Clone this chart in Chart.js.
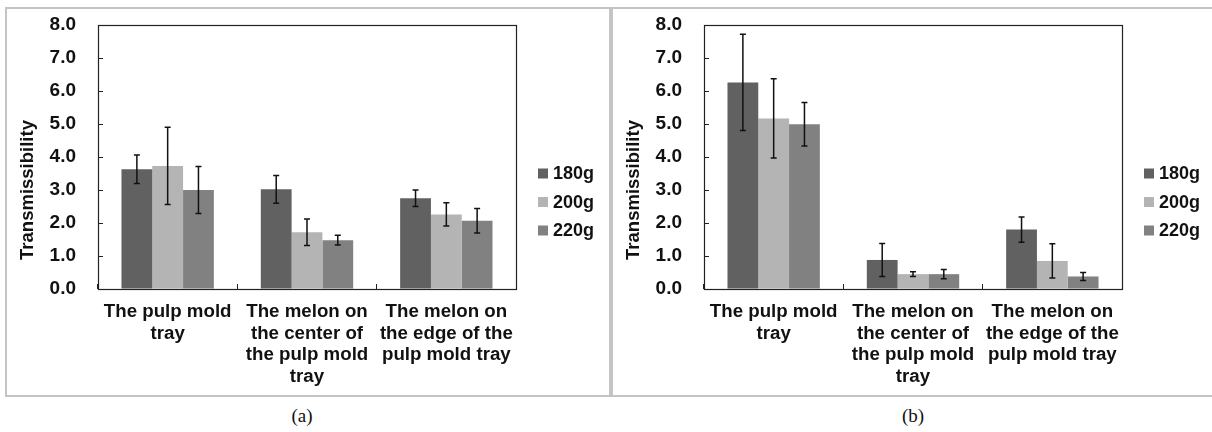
<!DOCTYPE html>
<html>
<head>
<meta charset="utf-8">
<script src="https://cdn.jsdelivr.net/npm/chart.js@4"></script>
<style>
  html, body { margin: 0; padding: 0; background: #fff; overflow: hidden; }
  body { width: 1212px; height: 432px; position: relative; }
  .panel { position: absolute; top: 7px; width: 602px; height: 386px; border: 2px solid #c4c4c4; }
  #pa { left: 5px; }
  #pb { left: 611px; }
  .cap { position: absolute; top: 405px; font-family: "Liberation Serif", "Times New Roman", serif; font-size: 19px; color: #111; transform: translateX(-50%); }
</style>
</head>
<body>
<div class="panel" id="pa"><canvas id="chartA" width="602" height="386"></canvas></div>
<div class="panel" id="pb"><canvas id="chartB" width="602" height="386"></canvas></div>
<div class="cap" style="left:302px">(a)</div>
<div class="cap" style="left:913px">(b)</div>
<script>
const categories = [
    ['The pulp mold', 'tray'],
    ['The melon on', 'the center of', 'the pulp mold', 'tray'],
    ['The melon on', 'the edge of the', 'pulp mold tray']
];
const seriesNames = ['180g', '200g', '220g'];
const seriesColors = ['#616161', '#b4b4b4', '#818181'];
const yMin = 0;
const yMax = 8;
const yStep = 1;
const yTitle = 'Transmissibility';

// panel (a)
const a180 = [3.63, 3.02, 2.75];
const a180Err = [0.43, 0.42, 0.25];
const a200 = [3.73, 1.72, 2.26];
const a200Err = [1.17, 0.40, 0.35];
const a220 = [3.00, 1.48, 2.07];
const a220Err = [0.71, 0.15, 0.37];

// panel (b)
const b180 = [6.26, 0.88, 1.80];
const b180Err = [1.46, 0.50, 0.38];
const b200 = [5.17, 0.45, 0.85];
const b200Err = [1.20, 0.07, 0.52];
const b220 = [4.99, 0.45, 0.38];
const b220Err = [0.66, 0.14, 0.12];

const FONT = 'Liberation Sans, Arial, sans-serif';

// error bars, frame, y title and legend drawn on top of the bars
const extras = {
    id: 'extras',
    afterDatasetsDraw(chart) {
        const ctx = chart.ctx;
        const y = chart.scales.y;
        ctx.save();
        ctx.strokeStyle = '#111';
        ctx.lineWidth = 1.5;
        chart.data.datasets.forEach((ds, i) => {
            const meta = chart.getDatasetMeta(i);
            meta.data.forEach((bar, j) => {
                const v = ds.data[j];
                const e = ds.errors[j];
                const top = y.getPixelForValue(v + e);
                const bot = y.getPixelForValue(v - e);
                ctx.beginPath();
                ctx.moveTo(bar.x, top);
                ctx.lineTo(bar.x, bot);
                ctx.moveTo(bar.x - 3, top);
                ctx.lineTo(bar.x + 3, top);
                ctx.moveTo(bar.x - 3, bot);
                ctx.lineTo(bar.x + 3, bot);
                ctx.stroke();
            });
        });
        ctx.restore();
    },
    afterDraw(chart) {
        const ctx = chart.ctx;
        const a = chart.chartArea;
        ctx.save();
        ctx.strokeStyle = '#222';
        ctx.lineWidth = 1.2;
        ctx.strokeRect(Math.round(a.left) + 0.5, Math.round(a.top) + 0.5,
            Math.round(a.right - a.left), Math.round(a.bottom - a.top));

        // y axis title
        ctx.fillStyle = '#111';
        ctx.font = 'bold 18.5px ' + FONT;
        ctx.textAlign = 'center';
        ctx.textBaseline = 'middle';
        ctx.translate(21, (a.top + a.bottom) / 2 + 33);
        ctx.rotate(-Math.PI / 2);
        ctx.fillText(yTitle, 0, 0);
        ctx.restore();

        // legend
        ctx.save();
        ctx.font = 'bold 18px ' + FONT;
        ctx.textAlign = 'left';
        ctx.textBaseline = 'middle';
        const lx = a.right + 22;
        chart.data.datasets.forEach((ds, i) => {
            const cy = chart.height / 2 + (i - 1) * 28.5;
            ctx.fillStyle = ds.backgroundColor;
            ctx.fillRect(lx, cy - 5, 10, 10);
            ctx.fillStyle = '#111';
            ctx.fillText(ds.label, lx + 15, cy + 1);
        });
        ctx.restore();
    }
};

function makeChart(id, values, errors) {
    const datasets = seriesNames.map((name, i) => ({
        label: name,
        data: values[i],
        errors: errors[i],
        backgroundColor: seriesColors[i],
        borderWidth: 0,
        categoryPercentage: 0.663,
        barPercentage: 1.0
    }));

    return new Chart(document.getElementById(id), {
        type: 'bar',
        data: { labels: categories, datasets: datasets },
        options: {
            responsive: false,
            animation: false,
            devicePixelRatio: 1,
            layout: { padding: { top: 16, right: 93, bottom: 0, left: 0 } },
            plugins: { legend: { display: false }, tooltip: { enabled: false } },
            scales: {
                x: {
                    grid: { display: true, drawOnChartArea: false, drawTicks: true, tickLength: -5, color: '#222', offset: true },
                    border: { display: false },
                    ticks: {
                        autoSkip: false, maxRotation: 0, minRotation: 0, padding: 17, color: '#111',
                        font: { family: FONT, size: 18.7, weight: 'bold', lineHeight: 1.16 }
                    },
                    afterFit(s) { s.height = 106; s.paddingLeft = 0; s.paddingRight = 0; }
                },
                y: {
                    min: yMin, max: yMax,
                    grid: { display: true, drawOnChartArea: false, drawTicks: true, tickLength: -5, color: '#222' },
                    border: { display: false },
                    ticks: {
                        stepSize: yStep, padding: 27, color: '#111',
                        font: { family: FONT, size: 19, weight: 'bold' },
                        callback: v => v.toFixed(1)
                    },
                    afterFit(s) { s.width = 91; s.paddingTop = 0; s.paddingBottom = 0; }
                }
            }
        },
        plugins: [extras]
    });
}

makeChart('chartA', [a180, a200, a220], [a180Err, a200Err, a220Err]);
makeChart('chartB', [b180, b200, b220], [b180Err, b200Err, b220Err]);
</script>
</body>
</html>
